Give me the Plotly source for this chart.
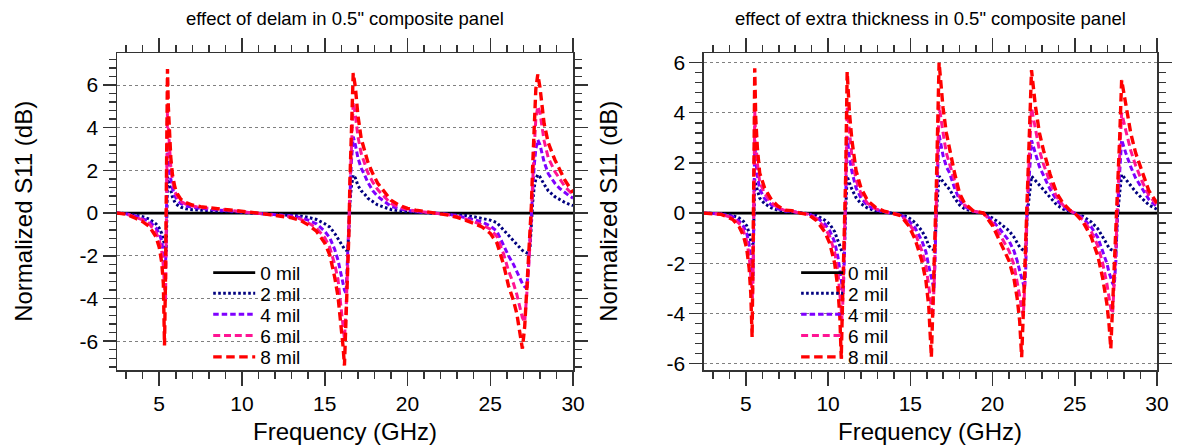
import plotly.graph_objects as go

# ---------------- data ----------------
SERIES_NAMES = ["0 mil", "2 mil", "4 mil", "6 mil", "8 mil"]
X_TICKS = [5, 10, 15, 20, 25, 30]
Y_TICKS = [-6, -4, -2, 0, 2, 4, 6]
Y_TICKTEXT = ["-6", "-4", "-2", "0", "2", "4", "6"]

# Left panel: effect of delam
L_FREQ = [2.45, 3.0, 3.6, 4.0, 4.4, 4.8, 5.0, 5.15, 5.25, 5.32,
          5.38, 5.42, 5.46, 5.5, 5.55, 5.62, 5.7, 5.8, 5.95, 6.1,
          6.3, 6.6, 7.0, 7.5, 8.0, 8.5, 9.0, 9.5, 10.0, 10.5,
          11.0, 11.5, 12.0, 12.5, 13.0, 13.5, 14.0, 14.5, 15.0, 15.3,
          15.6, 15.8, 16.0, 16.1, 16.19, 16.29, 16.39, 16.46, 16.52, 16.6,
          16.72, 16.85, 17.0, 17.2, 17.4, 17.6, 17.9, 18.2, 18.5, 19.0,
          19.5, 20.0, 20.5, 21.0, 21.5, 22.0, 22.5, 23.0, 23.5, 24.0,
          24.5, 25.0, 25.4, 25.8, 26.1, 26.4, 26.6, 26.8, 26.94, 27.08,
          27.2, 27.3, 27.4, 27.48, 27.56, 27.65, 27.75, 27.87, 28.0, 28.25,
          28.5, 28.9, 29.2, 29.5, 29.75, 30.0]
L_0MIL = [0.0] * len(L_FREQ)
L_2MIL = [0, -0.02, -0.1, -0.17, -0.28, -0.5, -0.7, -0.95, -1.25, -1.5,
          -1.7, -1.8, -0.2, 1.7, 1.55, 1.3, 1.0, 0.75, 0.5, 0.38,
          0.28, 0.2, 0.16, 0.13, 0.11, 0.09, 0.07, 0.05, 0.03, 0.01,
          0.0, -0.02, -0.04, -0.06, -0.09, -0.13, -0.2, -0.3, -0.5, -0.65,
          -0.95, -1.2, -1.45, -1.6, -1.68, -1.74, -1.74, -0.8, 0.5, 1.2,
          1.78, 1.65, 1.3, 1.05, 0.9, 0.7, 0.52, 0.38, 0.3, 0.17,
          0.1, 0.06, 0.03, 0.02, 0.0, -0.02, -0.04, -0.07, -0.11, -0.17,
          -0.24, -0.33, -0.45, -0.8, -1.05, -1.3, -1.5, -1.65, -1.75, -1.82,
          -1.88, -1.9, -1.6, -0.5, 0.5, 1.2, 1.6, 1.8, 1.7, 1.35,
          1.05, 0.77, 0.62, 0.5, 0.42, 0.35]
L_4MIL = [0, -0.03, -0.15, -0.25, -0.38, -0.7, -0.95, -1.3, -1.8, -2.2,
          -2.6, -1.3, 1.0, 3.3, 2.8, 2.2, 1.6, 1.15, 0.8, 0.6,
          0.45, 0.33, 0.27, 0.22, 0.18, 0.15, 0.12, 0.09, 0.06, 0.03,
          0.0, -0.03, -0.06, -0.09, -0.14, -0.2, -0.33, -0.5, -0.85, -1.15,
          -1.7, -2.2, -2.9, -3.3, -3.6, -3.77, -2.0, -0.6, 0.9, 2.3,
          3.58, 3.2, 2.6, 2.1, 1.8, 1.45, 1.05, 0.78, 0.6, 0.32,
          0.2, 0.12, 0.07, 0.04, 0.01, -0.02, -0.06, -0.12, -0.2, -0.3,
          -0.42, -0.6, -0.85, -1.5, -2.0, -2.4, -2.75, -3.1, -3.3, -3.45,
          -3.53, -2.6, -1.2, 0.0, 1.2, 2.2, 3.0, 3.43, 3.2, 2.4,
          1.85, 1.4, 1.15, 0.95, 0.82, 0.7]
L_6MIL = [0, -0.04, -0.2, -0.32, -0.5, -0.9, -1.25, -1.75, -2.5, -3.5,
          -4.2, -1.5, 2.0, 5.0, 4.0, 3.0, 2.2, 1.5, 1.0, 0.75,
          0.55, 0.42, 0.33, 0.27, 0.22, 0.19, 0.15, 0.11, 0.07, 0.03,
          0.0, -0.04, -0.08, -0.12, -0.18, -0.27, -0.45, -0.7, -1.15, -1.6,
          -2.4, -3.1, -4.4, -5.2, -5.9, -4.5, -2.5, -0.8, 1.2, 3.2,
          5.2, 4.6, 3.6, 2.8, 2.3, 1.9, 1.45, 1.1, 0.85, 0.45,
          0.28, 0.17, 0.1, 0.06, 0.02, -0.02, -0.08, -0.16, -0.27, -0.4,
          -0.55, -0.75, -1.1, -1.9, -2.7, -3.3, -3.8, -4.5, -4.9, -5.1,
          -4.0, -2.8, -1.4, 0.1, 1.7, 3.0, 4.4, 5.0, 4.7, 3.4,
          2.6, 1.95, 1.6, 1.25, 1.05, 0.85]
L_8MIL = [0, -0.05, -0.25, -0.4, -0.62, -1.1, -1.6, -2.3, -3.3, -6.2,
          -3.0, -0.5, 3.0, 6.75, 5.0, 3.6, 2.6, 1.8, 1.2, 0.9,
          0.65, 0.5, 0.38, 0.3, 0.25, 0.22, 0.18, 0.13, 0.09, 0.04,
          0.0, -0.05, -0.1, -0.15, -0.22, -0.33, -0.55, -0.85, -1.4, -1.95,
          -3.0, -3.9, -5.3, -6.2, -7.14, -5.0, -2.8, -0.9, 1.5, 4.0,
          6.56, 5.9, 4.6, 3.5, 2.9, 2.4, 1.85, 1.4, 1.1, 0.6,
          0.37, 0.22, 0.14, 0.08, 0.03, -0.02, -0.1, -0.2, -0.33, -0.48,
          -0.65, -0.95, -1.4, -2.4, -3.4, -4.1, -4.7, -5.6, -6.35, -5.3,
          -3.8, -2.5, -1.2, 0.3, 2.2, 4.0, 5.8, 6.5, 5.9, 4.2,
          3.3, 2.5, 2.0, 1.55, 1.25, 0.95]

# Right panel: effect of extra thickness
R_FREQ = [2.45, 3.5, 4.2, 4.6, 4.85, 5.05, 5.2, 5.3, 5.38, 5.41,
          5.44, 5.46, 5.5, 5.54, 5.6, 5.7, 5.84, 6.14, 6.55, 6.95,
          7.4, 7.8, 8.3, 8.8, 9.3, 9.8, 10.1, 10.4, 10.6, 10.72,
          10.8, 10.86, 10.92, 10.98, 11.07, 11.16, 11.3, 11.45, 11.7, 12.0,
          12.4, 12.9, 13.4, 13.9, 14.4, 14.9, 15.3, 15.7, 15.95, 16.12,
          16.28, 16.36, 16.44, 16.5, 16.58, 16.75, 16.99, 17.19, 17.39, 17.69,
          17.99, 18.29, 18.8, 19.45, 20.0, 20.4, 21.0, 21.3, 21.5, 21.65,
          21.77, 21.87, 21.95, 22.02, 22.1, 22.37, 22.6, 22.85, 23.1, 23.5,
          23.9, 24.3, 24.7, 25.0, 25.5, 26.0, 26.4, 26.7, 26.95, 27.08,
          27.19, 27.3, 27.4, 27.5, 27.6, 27.73, 27.85, 28.1, 28.4, 28.7,
          29.1, 29.5, 30.0]
R_0MIL = [0.0] * len(R_FREQ)
R_2MIL = [0, -0.02, -0.09, -0.2, -0.33, -0.5, -0.8, -1.1, -1.2, -1.23,
          -1.24, -1.24, 0.2, 1.34, 1.15, 0.9, 0.6, 0.38, 0.21, 0.11,
          0.06, 0.05, 0.0, -0.02, -0.1, -0.28, -0.44, -0.74, -1.1, -1.35,
          -1.5, -1.56, -1.6, -1.6, 0.1, 1.47, 1.2, 0.95, 0.62, 0.38,
          0.2, 0.09, 0.04, 0.0, -0.04, -0.18, -0.38, -0.7, -1.0, -1.3,
          -1.4, -1.44, -1.44, -1.44, 0.0, 1.47, 1.25, 1.08, 0.94, 0.6,
          0.33, 0.18, 0.06, 0.0, -0.2, -0.38, -0.7, -0.95, -1.2, -1.35,
          -1.43, -1.48, -1.5, -1.5, -0.1, 1.47, 1.3, 1.08, 0.9, 0.6,
          0.33, 0.16, 0.06, 0.0, -0.13, -0.35, -0.62, -0.95, -1.25, -1.38,
          -1.45, -1.48, -1.5, -1.5, -0.1, 0.8, 1.54, 1.35, 1.1, 0.85,
          0.58, 0.33, 0.15]
R_4MIL = [0, -0.03, -0.14, -0.32, -0.52, -0.8, -1.25, -1.8, -2.2, -2.4,
          -2.5, -1.5, 0.8, 2.92, 2.1, 1.5, 0.95, 0.58, 0.32, 0.17,
          0.08, 0.07, 0.0, -0.03, -0.17, -0.43, -0.7, -1.15, -1.75, -2.3,
          -2.8, -3.05, -3.2, -2.0, 0.5, 3.05, 2.2, 1.65, 1.0, 0.6,
          0.3, 0.13, 0.05, 0.0, -0.06, -0.29, -0.6, -1.1, -1.55, -2.1,
          -2.6, -2.9, -3.03, -2.0, 0.3, 3.12, 2.3, 1.85, 1.6, 1.0,
          0.53, 0.27, 0.08, 0.0, -0.3, -0.6, -1.1, -1.5, -1.9, -2.3,
          -2.6, -2.85, -3.0, -2.2, 0.1, 2.9, 2.35, 1.85, 1.5, 0.95,
          0.52, 0.25, 0.08, 0.0, -0.2, -0.55, -0.97, -1.5, -2.0, -2.35,
          -2.6, -2.8, -2.9, -1.9, 0.2, 1.5, 2.92, 2.4, 1.85, 1.4,
          0.95, 0.55, 0.25]
R_6MIL = [0, -0.04, -0.19, -0.42, -0.7, -1.1, -1.7, -2.5, -3.2, -3.4,
          -2.5, -1.2, 1.6, 4.1, 2.9, 2.0, 1.25, 0.78, 0.42, 0.22,
          0.1, 0.08, 0.0, -0.04, -0.22, -0.58, -0.93, -1.55, -2.35, -3.2,
          -3.9, -4.3, -3.0, -1.5, 1.0, 4.2, 3.1, 2.25, 1.32, 0.78,
          0.39, 0.17, 0.06, 0.0, -0.08, -0.38, -0.81, -1.5, -2.1, -2.9,
          -3.8, -4.15, -3.0, -1.6, 0.7, 4.3, 3.2, 2.4, 1.95, 1.25,
          0.65, 0.33, 0.09, 0.0, -0.4, -0.8, -1.5, -2.05, -2.7, -3.3,
          -3.8, -4.1, -3.0, -1.7, 0.3, 4.2, 3.3, 2.5, 1.95, 1.22,
          0.65, 0.31, 0.1, 0.0, -0.27, -0.73, -1.3, -2.0, -2.8, -3.3,
          -3.8, -4.0, -2.9, -1.5, 0.5, 2.2, 4.0, 3.3, 2.5, 1.9,
          1.25, 0.72, 0.32]
R_8MIL = [0, -0.05, -0.25, -0.55, -0.9, -1.4, -2.2, -3.2, -4.94, -3.5,
          -2.0, -0.8, 2.5, 5.77, 3.8, 2.6, 1.6, 1.0, 0.54, 0.28,
          0.12, 0.1, 0.0, -0.05, -0.3, -0.75, -1.2, -2.0, -3.0, -4.2,
          -5.8, -4.0, -2.4, -1.0, 1.5, 5.63, 4.0, 2.9, 1.7, 1.0,
          0.5, 0.22, 0.08, 0.0, -0.1, -0.5, -1.05, -1.9, -2.7, -3.7,
          -5.74, -4.0, -2.5, -1.2, 1.0, 6.0, 4.2, 3.2, 2.5, 1.6,
          0.8, 0.4, 0.1, 0.0, -0.5, -1.04, -1.9, -2.6, -3.4, -4.3,
          -5.74, -4.0, -2.5, -1.2, 0.5, 5.7, 4.3, 3.2, 2.5, 1.55,
          0.8, 0.38, 0.12, 0.0, -0.35, -0.95, -1.7, -2.6, -3.6, -4.4,
          -5.4, -3.8, -2.3, -1.0, 0.8, 3.0, 5.3, 4.3, 3.2, 2.4,
          1.6, 0.9, 0.4]

# ---------------- styling ----------------
FONT = "Liberation Sans, Arial, Helvetica, sans-serif"
STYLES = [
    dict(color="#000000", width=2.8, dash="solid"),
    dict(color="#00007F", width=3.0, dash="2.6px,2.4px"),
    dict(color="#7F00FF", width=3.0, dash="5.5px,3px"),
    dict(color="#FF1493", width=3.0, dash="7px,3.8px"),
    dict(color="#FF0000", width=3.4, dash="8.5px,4.5px"),
]

# plot area in pixels
W, H = 1184, 446
ML, MR, MT, MB = 117, 18, 53, 76
PW = W - ML - MR
PH = H - MT - MB

def px_x(p):
    return (p - ML) / PW

def px_y(p):
    return (H - MB - p) / PH

fig = go.Figure()

panels = [
    ("x", "y", L_FREQ, [L_0MIL, L_2MIL, L_4MIL, L_6MIL, L_8MIL], 0, 214),
    ("x2", "y2", R_FREQ, [R_0MIL, R_2MIL, R_4MIL, R_6MIL, R_8MIL], 5, 807),
]
LEG_ROWS = [272.7, 293.5, 314.5, 335.7, 357.0]
legends = {}
for xa, ya, freq, ys, leg0, leg_x in panels:
    for i, (name, yv) in enumerate(zip(SERIES_NAMES, ys)):
        n = leg0 + i + 1
        lname = "legend" if n == 1 else f"legend{n}"
        st = STYLES[i]
        fig.add_trace(go.Scatter(
            x=freq, y=yv, mode="lines", name=name, xaxis=xa, yaxis=ya,
            line=dict(color=st["color"], width=st["width"], dash=st["dash"]),
            legend=lname, hoverinfo="skip"))
        legends[lname] = dict(
            x=px_x(leg_x - 5), y=px_y(LEG_ROWS[i]), xanchor="left", yanchor="middle",
            bgcolor="rgba(0,0,0,0)", borderwidth=0,
            font=dict(family=FONT, size=19, color="black"),
            itemwidth=42, tracegroupgap=0)

axis_col = "#333333"
xcommon = dict(
    range=[2.45, 30], tickmode="array", tickvals=X_TICKS,
    ticktext=[str(v) for v in X_TICKS], ticks="outside", ticklen=14,
    tickwidth=1.5, tickcolor=axis_col, showline=True, linecolor=axis_col,
    linewidth=1.5, mirror="ticks", showgrid=False, zeroline=False,
    tickfont=dict(family=FONT, size=21, color="black"),
    minor=dict(ticks="outside", ticklen=7, tickwidth=1.5, tickcolor=axis_col,
               tickmode="linear", tick0=0, dtick=1, showgrid=False),
)
ycommon = dict(
    tickmode="array", tickvals=Y_TICKS, ticktext=Y_TICKTEXT,
    ticks="outside", ticklen=13, tickwidth=1.5, tickcolor=axis_col,
    showline=True, linecolor=axis_col, linewidth=1.5, mirror="ticks",
    showgrid=True, gridcolor="#808080", griddash="dot", gridwidth=1,
    zeroline=False, tickfont=dict(family=FONT, size=21, color="black"),
    minor=dict(ticks="outside", ticklen=7, tickwidth=1.5, tickcolor=axis_col,
               tickmode="linear", tick0=0, dtick=0.4, showgrid=False),
    domain=[0, 1],
)

x1dom = [0, px_x(577)]
x2dom = [px_x(709), 1]

fig.update_layout(
    width=W, height=H, margin=dict(l=ML, r=MR, t=MT, b=MB, pad=0),
    paper_bgcolor="white", plot_bgcolor="white",
    font=dict(family=FONT, color="black"),
    xaxis=dict(xcommon, domain=x1dom, anchor="y"),
    xaxis2=dict(xcommon, domain=x2dom, anchor="y2"),
    yaxis=dict(ycommon, range=[-7.35, 7.5], anchor="x"),
    yaxis2=dict(ycommon, range=[-6.25, 6.38], anchor="x2"),
    showlegend=True,
    **legends,
)

ann = []
ann.append(dict(text='effect of delam in 0.5" composite panel', x=px_x(347), y=px_y(18),
                xref="paper", yref="paper", showarrow=False,
                font=dict(family=FONT, size=18.5, color="black"), xanchor="center", yanchor="middle"))
ann.append(dict(text='effect of extra thickness in 0.5" composite panel', x=px_x(937.5), y=px_y(18),
                xref="paper", yref="paper", showarrow=False,
                font=dict(family=FONT, size=18.5, color="black"), xanchor="center", yanchor="middle"))
for cx in (347, 937.5):
    ann.append(dict(text="Frequency (GHz)", x=px_x(cx), y=px_y(431), xref="paper", yref="paper",
                    showarrow=False, font=dict(family=FONT, size=24, color="black"),
                    xanchor="center", yanchor="middle"))
for cx in (22, 612):
    ann.append(dict(text="Normalized S11 (dB)", x=px_x(cx), y=px_y(211), xref="paper", yref="paper",
                    showarrow=False, textangle=-90, font=dict(family=FONT, size=24, color="black"),
                    xanchor="center", yanchor="middle"))
fig.update_layout(annotations=ann)

fig.write_html("out.html", config={"displayModeBar": False, "staticPlot": True},
               post_script="document.body.style.margin='0';document.body.style.overflow='hidden';")
